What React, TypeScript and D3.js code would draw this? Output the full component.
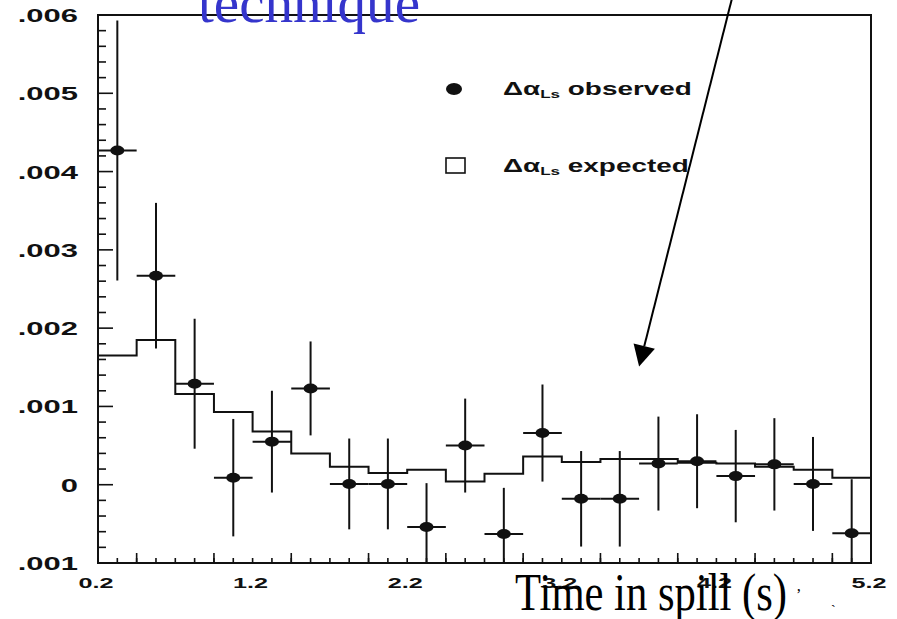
import React from 'react';
import * as d3 from 'd3';

// bin centres (s), bins are 0.25 s wide
const binCenters = [0.325, 0.575, 0.825, 1.075, 1.325, 1.575, 1.825, 2.075, 2.325, 2.575,
    2.825, 3.075, 3.325, 3.575, 3.825, 4.075, 4.325, 4.575, 4.825, 5.075];
const binHalfWidth = 0.125;

// delta alpha_LS observed (x 1e-3) and its error
const observed = [4.27, 2.67, 1.29, 0.09, 0.55, 1.23, 0.01, 0.01, -0.54, 0.50,
    -0.63, 0.66, -0.18, -0.18, 0.27, 0.30, 0.11, 0.26, 0.01, -0.62];
const observedErr = [1.66, 0.93, 0.83, 0.75, 0.65, 0.60, 0.58, 0.58, 0.56, 0.60,
    0.59, 0.62, 0.61, 0.61, 0.60, 0.60, 0.59, 0.59, 0.60, 0.69];

// delta alpha_LS expected (x 1e-3)
const expected = [1.65, 1.85, 1.16, 0.93, 0.68, 0.40, 0.23, 0.15, 0.19, 0.04,
    0.14, 0.36, 0.29, 0.33, 0.33, 0.28, 0.27, 0.23, 0.19, 0.09];

const yTickValues = [0.006, 0.005, 0.004, 0.003, 0.002, 0.001, 0, -0.001];
const yTickLabels = ['.006', '.005', '.004', '.003', '.002', '.001', '0', '.001'];
const xTickValues = [0.2, 1.2, 2.2, 3.2, 4.2, 5.2];
const xTickLabels = ['0.2', '1.2', '2.2', '3.2', '4.2', '5.2'];

const W = 897, H = 619;
const frame = {left: 98, right: 871, top: 15, bottom: 563};
const INK = '#111';
const PAW_FONT = '"Liberation Sans", Arial, sans-serif';
const SERIF = '"Liberation Serif", "Times New Roman", serif';

export default function App() {
    const x = d3.scaleLinear().domain([0.2, 5.2]).range([frame.left, frame.right]);
    const y = d3.scaleLinear().domain([-0.001, 0.006]).range([frame.bottom, frame.top]);

    const stepData: [number, number][] = expected.map((v, i) => [binCenters[i] - binHalfWidth, v / 1000]);
    stepData.push([binCenters[binCenters.length - 1] + binHalfWidth, expected[expected.length - 1] / 1000]);
    const stepLine = d3.line<[number, number]>()
        .x(d => x(d[0]))
        .y(d => y(d[1]))
        .curve(d3.curveStepAfter);

    // axis ticks
    const yMinor = d3.range(0, 36).map(i => -0.001 + i * 0.0002);
    const xMinor = d3.range(0, 41).map(i => 0.2 + i * 0.125);
    const xMedium = d3.range(0, 10).map(i => 0.45 + i * 0.5);

    // annotation arrow (data coords)
    const tail = [x(4.30), y(0.006206)];
    const tip = [x(3.70), y(0.00151)];
    const ang = Math.atan2(tip[1] - tail[1], tip[0] - tail[0]);
    const headLen = 21, headW = 11;
    const bx = tip[0] - headLen * Math.cos(ang), by = tip[1] - headLen * Math.sin(ang);
    const head = [
        [tip[0], tip[1]],
        [bx + headW * Math.sin(ang), by - headW * Math.cos(ang)],
        [bx - headW * Math.sin(ang), by + headW * Math.cos(ang)]
    ].map(p => p.join(',')).join(' ');

    return (
        <svg width={W} height={H} style={{position: 'absolute', left: 0, top: 0, background: '#fff'}}>
            <defs>
                <clipPath id="plot-clip">
                    <rect x={frame.left} y={frame.top} width={frame.right - frame.left} height={frame.bottom - frame.top}/>
                </clipPath>
            </defs>

            {/* frame */}
            <rect x={frame.left} y={frame.top} width={frame.right - frame.left} height={frame.bottom - frame.top}
                  fill="none" stroke={INK} strokeWidth={2}/>

            {/* y ticks */}
            {yMinor.map((v, i) => {
                const major = i % 5 === 0;
                return <line key={'yt' + i} x1={frame.left} x2={frame.left + (major ? 15 : 8)}
                             y1={y(v)} y2={y(v)} stroke={INK} strokeWidth={1.6}/>;
            })}
            {/* x ticks */}
            {xMinor.map((v, i) => (
                <line key={'xt' + i} x1={x(v)} x2={x(v)} y1={frame.bottom} y2={frame.bottom - 5}
                      stroke={INK} strokeWidth={1.6}/>
            ))}
            {xMedium.map((v, i) => (
                <line key={'xm' + i} x1={x(v)} x2={x(v)} y1={frame.bottom} y2={frame.bottom - 10}
                      stroke={INK} strokeWidth={1.6}/>
            ))}

            {/* y labels */}
            {yTickValues.map((v, i) => (
                <text key={'yl' + i} transform={`translate(78,${y(v) + 7}) scale(1.72,1)`}
                      textAnchor="end" fontFamily={PAW_FONT} fontWeight="bold" fontSize={18} fill={INK}>
                    {yTickLabels[i]}
                </text>
            ))}
            {/* x labels */}
            {xTickValues.map((v, i) => (
                <text key={'xl' + i} transform={`translate(${x(v) - 2},588) scale(1.68,1)`}
                      textAnchor="middle" fontFamily={PAW_FONT} fontWeight="bold" fontSize={15} fill={INK}>
                    {xTickLabels[i]}
                </text>
            ))}

            <g clipPath="url(#plot-clip)">
                {/* expected histogram */}
                <path d={stepLine(stepData) || ''} fill="none" stroke={INK} strokeWidth={2}/>

                {/* observed points with errors */}
                {binCenters.map((c, i) => {
                    const v = observed[i] / 1000, e = observedErr[i] / 1000;
                    return (
                        <g key={'pt' + i}>
                            <line x1={x(c)} x2={x(c)} y1={y(v + e)} y2={y(v - e)} stroke={INK} strokeWidth={2}/>
                            <line x1={x(c - binHalfWidth)} x2={x(c + binHalfWidth)} y1={y(v)} y2={y(v)}
                                  stroke={INK} strokeWidth={2}/>
                            <ellipse cx={x(c)} cy={y(v)} rx={7} ry={5} fill={INK}/>
                        </g>
                    );
                })}
            </g>

            {/* legend */}
            <ellipse cx={454} cy={89} rx={8} ry={6} fill={INK}/>
            <text transform="translate(503,95) scale(1.55,1)" fontFamily={PAW_FONT} fontWeight="bold" fontSize={18} fill={INK}>
                <tspan>Δα</tspan>
                <tspan fontSize={11} dy={3}>Ls</tspan>
                <tspan dy={-3}> observed</tspan>
            </text>
            <rect x={446} y={158} width={19} height={15} fill="none" stroke={INK} strokeWidth={1.6}/>
            <text transform="translate(503,172) scale(1.55,1)" fontFamily={PAW_FONT} fontWeight="bold" fontSize={18} fill={INK}>
                <tspan>Δα</tspan>
                <tspan fontSize={11} dy={3}>Ls</tspan>
                <tspan dy={-3}> expected</tspan>
            </text>

            {/* slide overlay */}
            <text x={198} y={22} fontFamily={SERIF} fontSize={57} fill="#3535cc" textLength={222}
                  lengthAdjust="spacingAndGlyphs">technique</text>
            <line x1={tail[0]} y1={tail[1]} x2={bx} y2={by} stroke="#000" strokeWidth={2}/>
            <polygon points={head} fill="#000"/>
            <text x={515} y={610} fontFamily={SERIF} fontSize={53} fill="#000" textLength={272}
                  lengthAdjust="spacingAndGlyphs">Time in spill (s)</text>
            <text x={796} y={600} fontFamily={SERIF} fontSize={16} fill="#000">ʼ</text>
            <text x={831} y={604} fontFamily={SERIF} fontSize={14} fill="#000">ˏ</text>
        </svg>
    );
}
